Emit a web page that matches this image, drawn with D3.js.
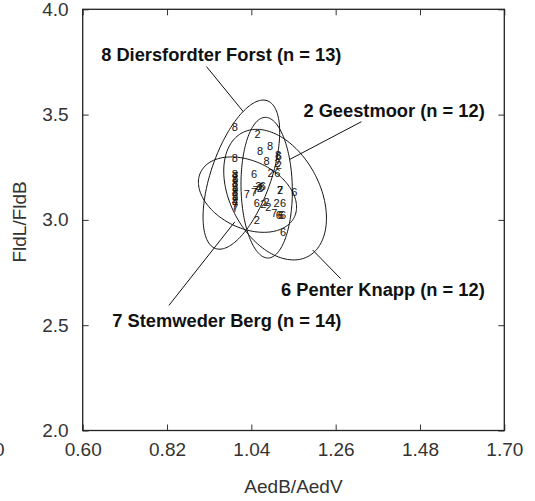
<!DOCTYPE html>
<html>
<head>
<meta charset="utf-8">
<script src="https://cdn.jsdelivr.net/npm/d3@7"></script>
<style>
  body { margin: 0; background: #ffffff; }
  .axis text { font-family: "Liberation Sans", Arial, sans-serif; font-size: 19px; fill: #333; }
  .axis line { stroke: #333; stroke-width: 1; }
  .axis_title { font-family: "Liberation Sans", Arial, sans-serif; font-size: 19px; fill: #333; }
  .pt_label { font-family: "Liberation Sans", Arial, sans-serif; font-size: 11px; fill: #111; }
  .site_label { font-family: "Liberation Sans", Arial, sans-serif; font-size: 18.3px; font-weight: bold; fill: #111; }
</style>
</head>
<body>
<div id="chart"></div>
<script>

// tick values
var x_ticks = [0.60, 0.82, 1.04, 1.26, 1.48, 1.70];
var y_ticks = [2.0, 2.5, 3.0, 3.5, 4.0];

// sites: id, name, sample size
var site_ids = ["8", "2", "6", "7"];
var site_names = ["Diersfordter Forst", "Geestmoor", "Penter Knapp", "Stemweder Berg"];
var site_n = [13, 12, 12, 14];

// individuals per site: [AedB/AedV, FldL/FldB]
var pts_8 = [[0.997, 3.443], [0.997, 3.293], [1.063, 3.329], [1.089, 3.351], [1.080, 3.281],
             [1.110, 3.308], [0.997, 3.220], [0.998, 3.198], [0.997, 3.177], [0.998, 3.155],
             [0.997, 3.133], [0.998, 3.111], [0.997, 3.090]];
var pts_2 = [[1.056, 3.408], [1.108, 3.269], [1.090, 3.222], [1.058, 3.161], [1.115, 3.142],
             [1.071, 3.074], [1.080, 3.086], [1.084, 3.063], [1.106, 3.079], [1.054, 3.000],
             [1.062, 3.150], [1.112, 3.262]];
var pts_6 = [[1.112, 3.303], [1.108, 3.224], [1.047, 3.216], [1.067, 3.158], [1.152, 3.134],
             [1.054, 3.079], [1.123, 3.079], [1.112, 3.023], [1.123, 3.023], [1.123, 2.944],
             [1.070, 3.160], [1.117, 3.025]];
var pts_7 = [[1.028, 3.121], [1.047, 3.133], [1.051, 3.142], [1.115, 3.142], [1.100, 3.031],
             [0.998, 3.209], [0.997, 3.187], [0.998, 3.166], [0.997, 3.144], [0.998, 3.122],
             [0.997, 3.100], [0.998, 3.079], [0.997, 3.068], [0.998, 3.057]];

// ellipses: centre x, centre y, half range x, half range y, correlation
var ell_8 = [1.014, 3.215, 0.100, 0.354, 0.57];
var ell_2 = [1.080, 3.153, 0.067, 0.334, -0.05];
var ell_6 = [1.102, 3.120, 0.134, 0.310, -0.36];
var ell_7 = [1.030, 3.120, 0.128, 0.179, -0.33];

// labels: text right end (x, y), leader start (x, y), leader end (x, y)
var lab_8 = [1.275, 3.756, 0.923, 3.728, 1.019, 3.514];
var lab_2 = [1.649, 3.487, 1.327, 3.466, 1.141, 3.288];
var lab_6 = [1.649, 2.639, 1.273, 2.721, 1.200, 2.857];
var lab_7 = [1.275, 2.493, 0.825, 2.594, 0.997, 2.991];

var all_pts = [pts_8, pts_2, pts_6, pts_7];
var all_ell = [ell_8, ell_2, ell_6, ell_7];
var all_lab = [lab_8, lab_2, lab_6, lab_7];


var svg_w = 535, svg_h = 501;
var margin = {top: 9.3, right: 30.7, bottom: 70.5, left: 82.7};
var plot_w = svg_w - margin.left - margin.right;
var plot_h = svg_h - margin.top - margin.bottom;

var svg = d3.select("#chart")
  .append("svg")
    .attr("width", svg_w)
    .attr("height", svg_h);

var svg_plot = svg.append("g")
    .attr("transform", "translate(" + margin.left + "," + margin.top + ")");

var x = d3.scaleLinear().domain([0.60, 1.70]).range([0, plot_w]);
var y = d3.scaleLinear().domain([2.0, 4.0]).range([plot_h, 0]);

// bottom axis with labels, ticks pointing in
svg_plot.append("g")
  .attr("class", "axis")
  .attr("transform", "translate(0," + plot_h + ")")
  .call(d3.axisBottom(x).tickValues(x_ticks).tickFormat(d3.format(".2f"))
        .tickSizeInner(-6).tickSizeOuter(0).tickPadding(12))
  .call(g => g.select(".domain").remove());

// left axis
svg_plot.append("g")
  .attr("class", "axis")
  .call(d3.axisLeft(y).tickValues(y_ticks).tickFormat(d3.format(".1f"))
        .tickSizeInner(-6).tickSizeOuter(0).tickPadding(14))
  .call(g => g.select(".domain").remove());

// top and right ticks, no labels
svg_plot.append("g")
  .attr("class", "axis")
  .call(d3.axisTop(x).tickValues(x_ticks).tickFormat("").tickSizeInner(-6).tickSizeOuter(0))
  .call(g => g.select(".domain").remove());

svg_plot.append("g")
  .attr("class", "axis")
  .attr("transform", "translate(" + plot_w + ",0)")
  .call(d3.axisRight(y).tickValues(y_ticks).tickFormat("").tickSizeInner(-6).tickSizeOuter(0))
  .call(g => g.select(".domain").remove());

// frame
svg_plot.append("rect")
  .attr("x", 0).attr("y", 0)
  .attr("width", plot_w).attr("height", plot_h)
  .style("fill", "none")
  .style("stroke", "#222")
  .style("stroke-width", 1.3);

// axis titles
svg_plot.append("text")
  .attr("class", "axis_title")
  .attr("x", plot_w / 2)
  .attr("y", plot_h + 63)
  .style("text-anchor", "middle")
  .text("AedB/AedV");

svg_plot.append("text")
  .attr("class", "axis_title")
  .attr("transform", "rotate(-90)")
  .attr("x", -plot_h / 2 - 2)
  .attr("y", -57)
  .style("text-anchor", "middle")
  .text("FldL/FldB");

// stray label cut by the left edge of the page
svg.append("text")
  .attr("class", "axis_title")
  .attr("x", 4.5)
  .attr("y", margin.top + plot_h + 12 + 13.5)
  .style("text-anchor", "end")
  .text("0");

// ellipse outline from centre, ranges and correlation
function ellipse_pts(e) {
  var k = Math.sqrt(1 - e[4] * e[4]);
  return d3.range(0, 2 * Math.PI, Math.PI / 90).map(function(t) {
    return [e[0] + e[2] * Math.cos(t), e[1] + e[3] * (e[4] * Math.cos(t) + k * Math.sin(t))];
  });
}

var line = d3.line()
  .x(function(d) { return x(d[0]); })
  .y(function(d) { return y(d[1]); })
  .curve(d3.curveLinearClosed);

svg_plot.selectAll("myEllipses")
  .data(all_ell)
  .enter()
  .append("path")
    .attr("d", function(d) { return line(ellipse_pts(d)); })
    .style("fill", "none")
    .style("stroke", "#111")
    .style("stroke-width", 1);

// points drawn as site numbers
all_pts.forEach(function(pts, i) {
  svg_plot.selectAll("myPts" + i)
    .data(pts)
    .enter()
    .append("text")
      .attr("class", "pt_label")
      .attr("x", function(d) { return x(d[0]); })
      .attr("y", function(d) { return y(d[1]); })
      .attr("dy", "0.36em")
      .style("text-anchor", "middle")
      .text(site_ids[i]);
});

// leader lines and site labels
svg_plot.selectAll("myLeaders")
  .data(all_lab)
  .enter()
  .append("line")
    .attr("x1", function(d) { return x(d[2]); })
    .attr("y1", function(d) { return y(d[3]); })
    .attr("x2", function(d) { return x(d[4]); })
    .attr("y2", function(d) { return y(d[5]); })
    .style("stroke", "#111")
    .style("stroke-width", 1);

svg_plot.selectAll("myLabels")
  .data(all_lab)
  .enter()
  .append("text")
    .attr("class", "site_label")
    .attr("x", function(d) { return x(d[0]); })
    .attr("y", function(d) { return y(d[1]); })
    .style("text-anchor", "end")
    .text(function(d, i) { return site_ids[i] + " " + site_names[i] + " (n = " + site_n[i] + ")"; });

</script>
</body>
</html>
